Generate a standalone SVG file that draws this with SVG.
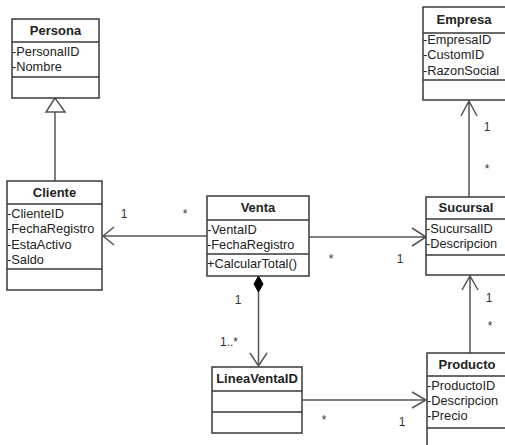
<svg xmlns="http://www.w3.org/2000/svg" width="505" height="445" viewBox="0 0 505 445">
<style>
.box{fill:#fff;stroke:#3a3a3a;stroke-width:1.5}
.div{stroke:#3a3a3a;stroke-width:1.5}
.t{font-family:"Liberation Sans",Arial,sans-serif;font-size:13px;font-weight:bold;fill:#222;text-anchor:middle}
.a{font-family:"Liberation Sans",Arial,sans-serif;font-size:12.8px;fill:#222}
.c{stroke:#555;stroke-width:1.5;fill:none}
.m{font-family:"Liberation Sans",Arial,sans-serif;font-size:12px;fill:#333;text-anchor:middle}
</style>
<rect width="505" height="445" fill="#fff"/>
<g id="connectors">
<path class="c" d="M55,112 V181"/>
<path d="M55,98 L46,112 L65,112 Z" fill="#fff" stroke="#555" stroke-width="1.5"/>
<path class="c" d="M207,236 H103 M114,227 L103,236 L114,245"/>
<path class="c" d="M309,237 H426 M412,228 L426,237 L412,246"/>
<path class="c" d="M469,197 V101 M461,116 L469,101 L477,116"/>
<path class="c" d="M470,353 V276 M462,290 L470,276 L478,290"/>
<path class="c" d="M258.5,292 V366 M250,353 L258.5,366 L267,353"/>
<path d="M258.5,276 L263,284 L258.5,292 L254,284 Z" fill="#000" stroke="#000" stroke-width="1"/>
<path class="c" d="M302,400 H426 M412,392 L426,400 L412,408"/>
<text class="m" x="124" y="217.5">1</text>
<text class="m" x="185" y="218">*</text>
<text class="m" x="331" y="263">*</text>
<text class="m" x="400" y="262.5">1</text>
<text class="m" x="487" y="131">1</text>
<text class="m" x="487" y="173">*</text>
<text class="m" x="489" y="302">1</text>
<text class="m" x="490" y="330">*</text>
<text class="m" x="238" y="304">1</text>
<text class="m" x="229" y="346">1..*</text>
<text class="m" x="324" y="424">*</text>
<text class="m" x="402" y="426">1</text>
</g>
<g id="Persona">
<rect class="box" x="12" y="19" width="87" height="79"/>
<path class="div" d="M12,42 H99 M12,77 H99"/>
<text class="t" x="55.5" y="35">Persona</text>
<text class="a" x="12" y="56">-PersonalID</text>
<text class="a" x="12" y="71">-Nombre</text>
</g>
<g id="Cliente">
<rect class="box" x="7" y="181" width="95" height="109"/>
<path class="div" d="M7,204 H102 M7,269 H102"/>
<text class="t" x="54.5" y="197">Cliente</text>
<text class="a" x="7" y="217.5">-ClienteID</text>
<text class="a" x="7" y="233">-FechaRegistro</text>
<text class="a" x="7" y="248.5">-EstaActivo</text>
<text class="a" x="7" y="264">-Saldo</text>
</g>
<g id="Venta">
<rect class="box" x="207" y="196" width="102" height="80"/>
<path class="div" d="M207,220 H309 M207,254 H309"/>
<text class="t" x="258" y="211.5">Venta</text>
<text class="a" x="207" y="233.5">-VentaID</text>
<text class="a" x="207" y="248.5">-FechaRegistro</text>
<text class="a" x="207" y="267.5">+CalcularTotal()</text>
</g>
<g id="Empresa">
<rect class="box" x="423" y="7" width="90" height="93"/>
<path class="div" d="M423,33 H513 M423,80 H513"/>
<text class="t" x="464" y="24">Empresa</text>
<text class="a" x="423" y="44">-EmpresaID</text>
<text class="a" x="423" y="59">-CustomID</text>
<text class="a" x="423" y="75">-RazonSocial</text>
</g>
<g id="Sucursal">
<rect class="box" x="426" y="197" width="90" height="78"/>
<path class="div" d="M426,219 H516 M426,255 H516"/>
<text class="t" x="466" y="212">Sucursal</text>
<text class="a" x="426" y="232.5">-SucursalID</text>
<text class="a" x="426" y="248">-Descripcion</text>
</g>
<g id="LineaVentaID">
<rect class="box" x="212" y="367" width="90" height="66"/>
<path class="div" d="M212,391 H302 M212,412 H302"/>
<text class="t" x="257" y="383">LineaVentaID</text>
</g>
<g id="Producto">
<rect class="box" x="427" y="353" width="90" height="110"/>
<path class="div" d="M427,376 H517 M427,428 H517"/>
<text class="t" x="467" y="368.5">Producto</text>
<text class="a" x="427" y="389.5">-ProductoID</text>
<text class="a" x="427" y="404.5">-Descripcion</text>
<text class="a" x="427" y="419.5">-Precio</text>
</g>
</svg>
